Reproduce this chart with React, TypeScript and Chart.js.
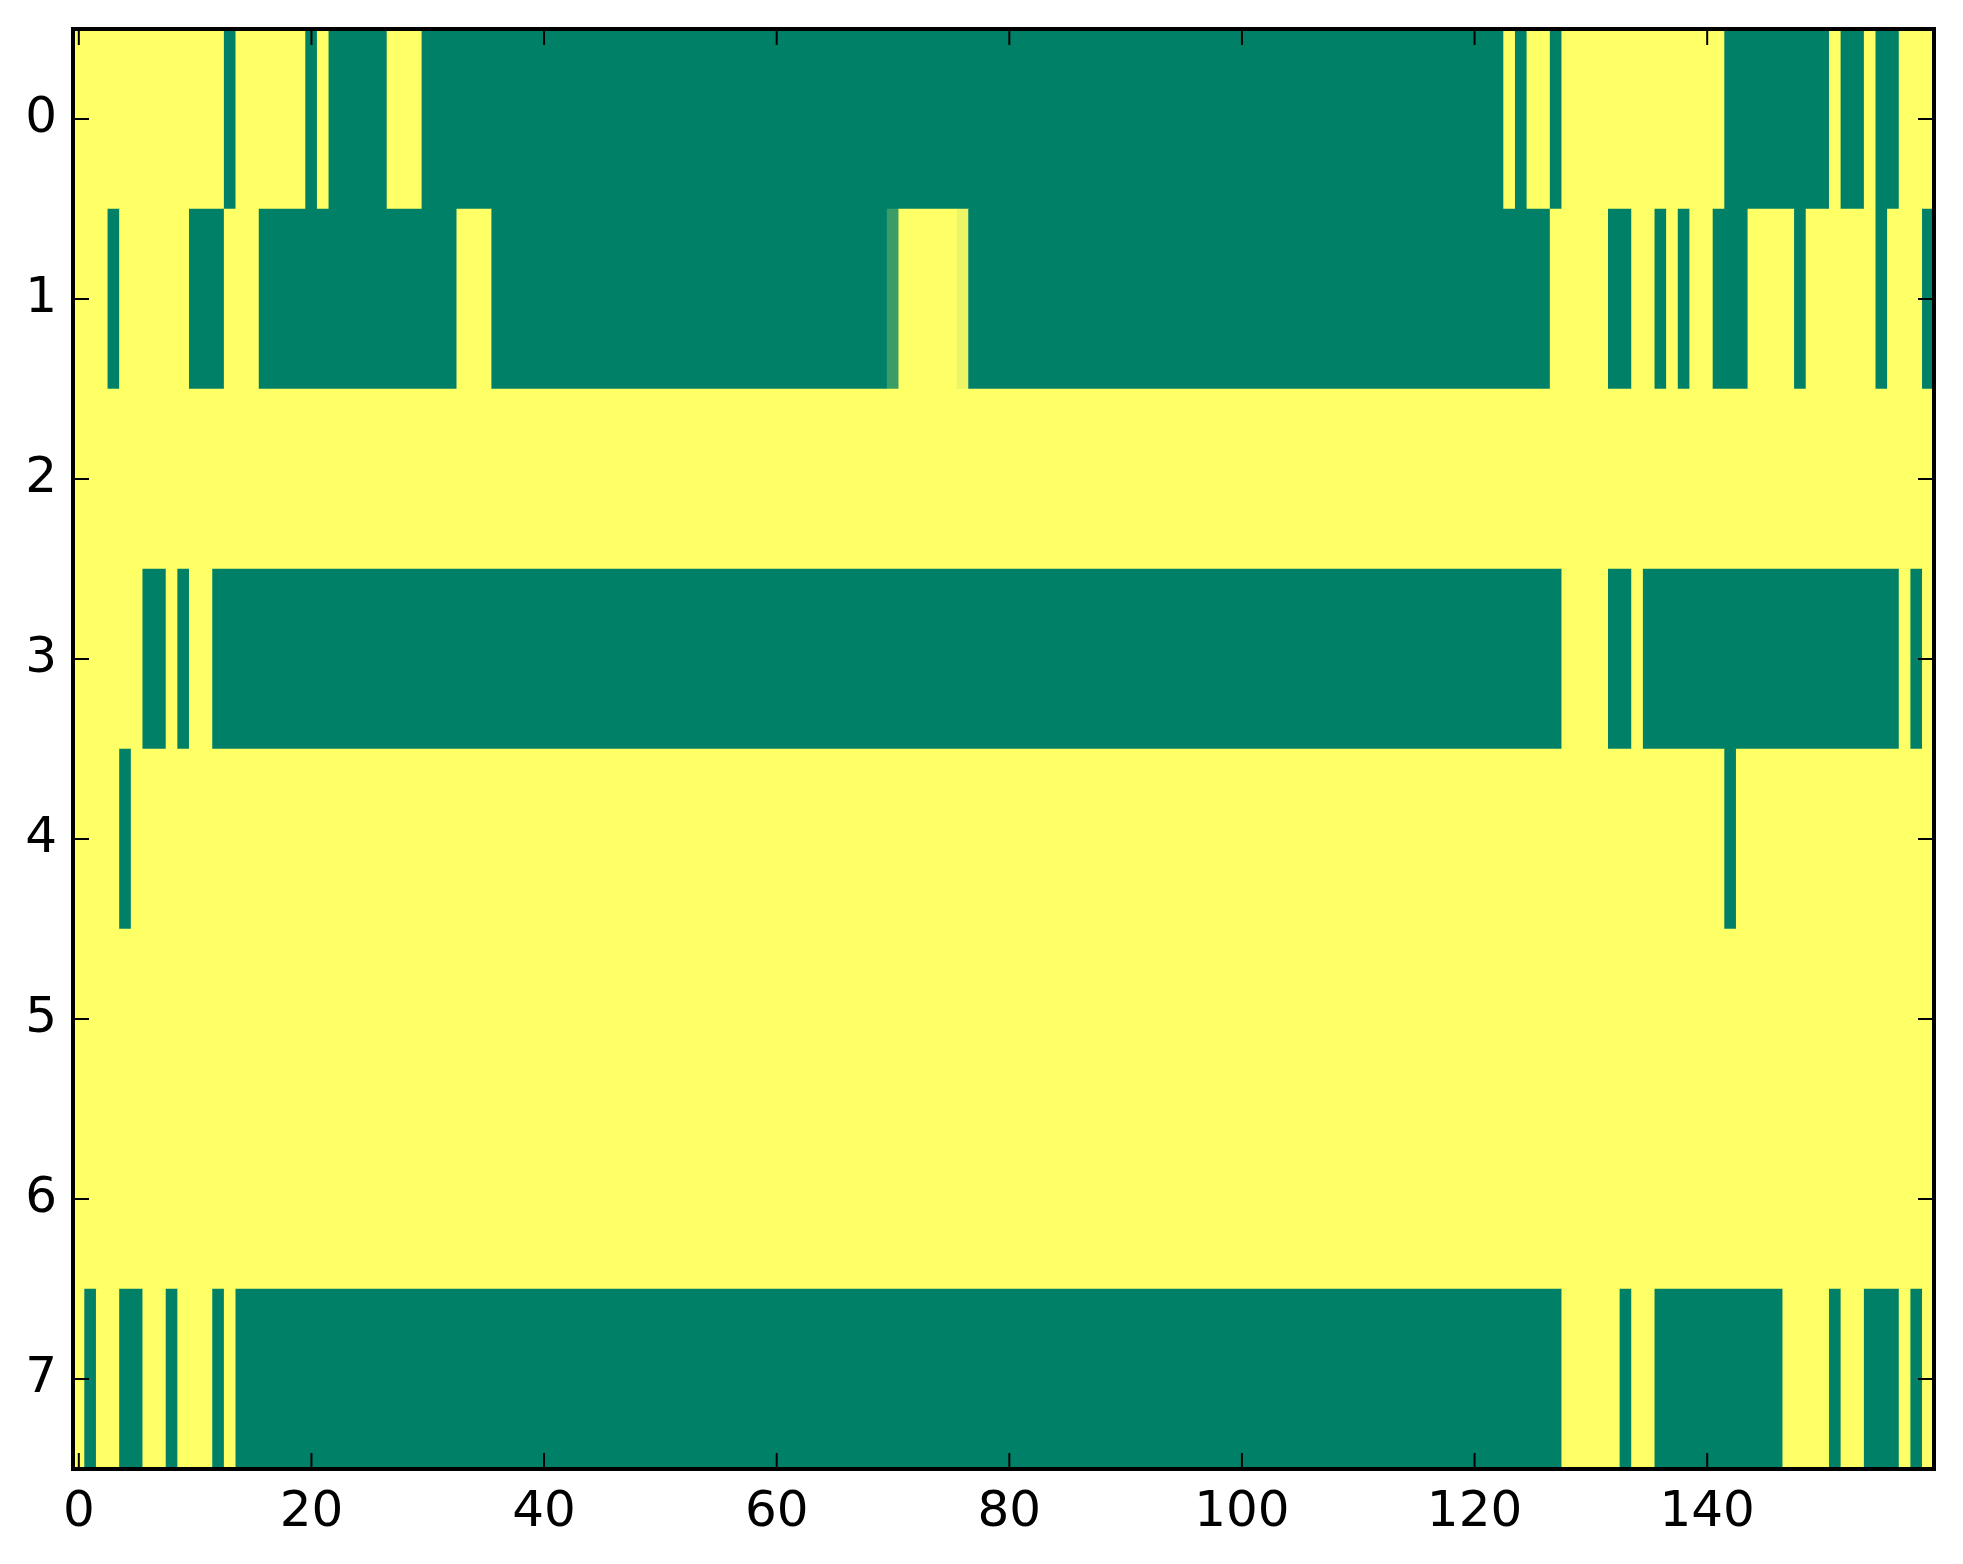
import React, { useEffect, useRef } from 'react';
import { Chart, registerables } from 'chart.js';

Chart.register(...registerables);

// Filas del mapa (0 = verde, 1 = amarillo), 160 columnas cada una
const rowLabels = ['0', '1', '2', '3', '4', '5', '6', '7'];
const xTickValues = [0, 20, 40, 60, 80, 100, 120, 140];

const row0 = [
  1, 1, 1, 1, 1, 1, 1, 1, 1, 1, 1, 1, 1, 0, 1, 1, 1, 1, 1, 1,
  0, 1, 0, 0, 0, 0, 0, 1, 1, 1, 0, 0, 0, 0, 0, 0, 0, 0, 0, 0,
  0, 0, 0, 0, 0, 0, 0, 0, 0, 0, 0, 0, 0, 0, 0, 0, 0, 0, 0, 0,
  0, 0, 0, 0, 0, 0, 0, 0, 0, 0, 0, 0, 0, 0, 0, 0, 0, 0, 0, 0,
  0, 0, 0, 0, 0, 0, 0, 0, 0, 0, 0, 0, 0, 0, 0, 0, 0, 0, 0, 0,
  0, 0, 0, 0, 0, 0, 0, 0, 0, 0, 0, 0, 0, 0, 0, 0, 0, 0, 0, 0,
  0, 0, 0, 1, 0, 1, 1, 0, 1, 1, 1, 1, 1, 1, 1, 1, 1, 1, 1, 1,
  1, 1, 0, 0, 0, 0, 0, 0, 0, 0, 0, 1, 0, 0, 1, 0, 0, 1, 1, 1,
];

const row1 = [
  1, 1, 1, 0, 1, 1, 1, 1, 1, 1, 0, 0, 0, 1, 1, 1, 0, 0, 0, 0,
  0, 0, 0, 0, 0, 0, 0, 0, 0, 0, 0, 0, 0, 1, 1, 1, 0, 0, 0, 0,
  0, 0, 0, 0, 0, 0, 0, 0, 0, 0, 0, 0, 0, 0, 0, 0, 0, 0, 0, 0,
  0, 0, 0, 0, 0, 0, 0, 0, 0, 0, 0.23, 1, 1, 1, 1, 1, 0.92, 0, 0, 0,
  0, 0, 0, 0, 0, 0, 0, 0, 0, 0, 0, 0, 0, 0, 0, 0, 0, 0, 0, 0,
  0, 0, 0, 0, 0, 0, 0, 0, 0, 0, 0, 0, 0, 0, 0, 0, 0, 0, 0, 0,
  0, 0, 0, 0, 0, 0, 0, 1, 1, 1, 1, 1, 0, 0, 1, 1, 0, 1, 0, 1,
  1, 0, 0, 0, 1, 1, 1, 1, 0, 1, 1, 1, 1, 1, 1, 0, 1, 1, 1, 0,
];

const row2 = [
  1, 1, 1, 1, 1, 1, 1, 1, 1, 1, 1, 1, 1, 1, 1, 1, 1, 1, 1, 1,
  1, 1, 1, 1, 1, 1, 1, 1, 1, 1, 1, 1, 1, 1, 1, 1, 1, 1, 1, 1,
  1, 1, 1, 1, 1, 1, 1, 1, 1, 1, 1, 1, 1, 1, 1, 1, 1, 1, 1, 1,
  1, 1, 1, 1, 1, 1, 1, 1, 1, 1, 1, 1, 1, 1, 1, 1, 1, 1, 1, 1,
  1, 1, 1, 1, 1, 1, 1, 1, 1, 1, 1, 1, 1, 1, 1, 1, 1, 1, 1, 1,
  1, 1, 1, 1, 1, 1, 1, 1, 1, 1, 1, 1, 1, 1, 1, 1, 1, 1, 1, 1,
  1, 1, 1, 1, 1, 1, 1, 1, 1, 1, 1, 1, 1, 1, 1, 1, 1, 1, 1, 1,
  1, 1, 1, 1, 1, 1, 1, 1, 1, 1, 1, 1, 1, 1, 1, 1, 1, 1, 1, 1,
];

const row3 = [
  1, 1, 1, 1, 1, 1, 0, 0, 1, 0, 1, 1, 0, 0, 0, 0, 0, 0, 0, 0,
  0, 0, 0, 0, 0, 0, 0, 0, 0, 0, 0, 0, 0, 0, 0, 0, 0, 0, 0, 0,
  0, 0, 0, 0, 0, 0, 0, 0, 0, 0, 0, 0, 0, 0, 0, 0, 0, 0, 0, 0,
  0, 0, 0, 0, 0, 0, 0, 0, 0, 0, 0, 0, 0, 0, 0, 0, 0, 0, 0, 0,
  0, 0, 0, 0, 0, 0, 0, 0, 0, 0, 0, 0, 0, 0, 0, 0, 0, 0, 0, 0,
  0, 0, 0, 0, 0, 0, 0, 0, 0, 0, 0, 0, 0, 0, 0, 0, 0, 0, 0, 0,
  0, 0, 0, 0, 0, 0, 0, 0, 1, 1, 1, 1, 0, 0, 1, 0, 0, 0, 0, 0,
  0, 0, 0, 0, 0, 0, 0, 0, 0, 0, 0, 0, 0, 0, 0, 0, 0, 1, 0, 1,
];

const row4 = [
  1, 1, 1, 1, 0, 1, 1, 1, 1, 1, 1, 1, 1, 1, 1, 1, 1, 1, 1, 1,
  1, 1, 1, 1, 1, 1, 1, 1, 1, 1, 1, 1, 1, 1, 1, 1, 1, 1, 1, 1,
  1, 1, 1, 1, 1, 1, 1, 1, 1, 1, 1, 1, 1, 1, 1, 1, 1, 1, 1, 1,
  1, 1, 1, 1, 1, 1, 1, 1, 1, 1, 1, 1, 1, 1, 1, 1, 1, 1, 1, 1,
  1, 1, 1, 1, 1, 1, 1, 1, 1, 1, 1, 1, 1, 1, 1, 1, 1, 1, 1, 1,
  1, 1, 1, 1, 1, 1, 1, 1, 1, 1, 1, 1, 1, 1, 1, 1, 1, 1, 1, 1,
  1, 1, 1, 1, 1, 1, 1, 1, 1, 1, 1, 1, 1, 1, 1, 1, 1, 1, 1, 1,
  1, 1, 0, 1, 1, 1, 1, 1, 1, 1, 1, 1, 1, 1, 1, 1, 1, 1, 1, 1,
];

const row5 = [
  1, 1, 1, 1, 1, 1, 1, 1, 1, 1, 1, 1, 1, 1, 1, 1, 1, 1, 1, 1,
  1, 1, 1, 1, 1, 1, 1, 1, 1, 1, 1, 1, 1, 1, 1, 1, 1, 1, 1, 1,
  1, 1, 1, 1, 1, 1, 1, 1, 1, 1, 1, 1, 1, 1, 1, 1, 1, 1, 1, 1,
  1, 1, 1, 1, 1, 1, 1, 1, 1, 1, 1, 1, 1, 1, 1, 1, 1, 1, 1, 1,
  1, 1, 1, 1, 1, 1, 1, 1, 1, 1, 1, 1, 1, 1, 1, 1, 1, 1, 1, 1,
  1, 1, 1, 1, 1, 1, 1, 1, 1, 1, 1, 1, 1, 1, 1, 1, 1, 1, 1, 1,
  1, 1, 1, 1, 1, 1, 1, 1, 1, 1, 1, 1, 1, 1, 1, 1, 1, 1, 1, 1,
  1, 1, 1, 1, 1, 1, 1, 1, 1, 1, 1, 1, 1, 1, 1, 1, 1, 1, 1, 1,
];

const row6 = [
  1, 1, 1, 1, 1, 1, 1, 1, 1, 1, 1, 1, 1, 1, 1, 1, 1, 1, 1, 1,
  1, 1, 1, 1, 1, 1, 1, 1, 1, 1, 1, 1, 1, 1, 1, 1, 1, 1, 1, 1,
  1, 1, 1, 1, 1, 1, 1, 1, 1, 1, 1, 1, 1, 1, 1, 1, 1, 1, 1, 1,
  1, 1, 1, 1, 1, 1, 1, 1, 1, 1, 1, 1, 1, 1, 1, 1, 1, 1, 1, 1,
  1, 1, 1, 1, 1, 1, 1, 1, 1, 1, 1, 1, 1, 1, 1, 1, 1, 1, 1, 1,
  1, 1, 1, 1, 1, 1, 1, 1, 1, 1, 1, 1, 1, 1, 1, 1, 1, 1, 1, 1,
  1, 1, 1, 1, 1, 1, 1, 1, 1, 1, 1, 1, 1, 1, 1, 1, 1, 1, 1, 1,
  1, 1, 1, 1, 1, 1, 1, 1, 1, 1, 1, 1, 1, 1, 1, 1, 1, 1, 1, 1,
];

const row7 = [
  1, 0, 1, 1, 0, 0, 1, 1, 0, 1, 1, 1, 0, 1, 0, 0, 0, 0, 0, 0,
  0, 0, 0, 0, 0, 0, 0, 0, 0, 0, 0, 0, 0, 0, 0, 0, 0, 0, 0, 0,
  0, 0, 0, 0, 0, 0, 0, 0, 0, 0, 0, 0, 0, 0, 0, 0, 0, 0, 0, 0,
  0, 0, 0, 0, 0, 0, 0, 0, 0, 0, 0, 0, 0, 0, 0, 0, 0, 0, 0, 0,
  0, 0, 0, 0, 0, 0, 0, 0, 0, 0, 0, 0, 0, 0, 0, 0, 0, 0, 0, 0,
  0, 0, 0, 0, 0, 0, 0, 0, 0, 0, 0, 0, 0, 0, 0, 0, 0, 0, 0, 0,
  0, 0, 0, 0, 0, 0, 0, 0, 1, 1, 1, 1, 1, 0, 1, 1, 0, 0, 0, 0,
  0, 0, 0, 0, 0, 0, 0, 1, 1, 1, 1, 0, 1, 1, 0, 0, 0, 1, 0, 1,
];

const rows = [row0, row1, row2, row3, row4, row5, row6, row7];

// mapa de color "summer" de matplotlib
const summer = (v: number) =>
  `rgb(${Math.round(255 * v)}, ${Math.round(255 * (0.5 + 0.5 * v))}, 102)`;

// cada tramo de celdas iguales se dibuja como una barra flotante
const cells: { x: [number, number]; y: string }[] = [];
const cellColors: string[] = [];
rows.forEach((row, r) => {
  let start = 0;
  for (let c = 1; c <= row.length; c++) {
    if (c === row.length || row[c] !== row[start]) {
      cells.push({ x: [start - 0.5, c - 0.5], y: rowLabels[r] });
      cellColors.push(summer(row[start]));
      start = c;
    }
  }
});

const tickFont = { family: 'DejaVu Sans', size: 50 };

// marco negro y marcas hacia dentro en los cuatro lados
const frameAndTicks = {
  id: 'frameAndTicks',
  afterDatasetsDraw(chart: any) {
    const { ctx, chartArea: a, scales } = chart;
    const len = 16;
    ctx.save();
    ctx.strokeStyle = '#000';
    ctx.lineWidth = 2;
    ctx.beginPath();
    xTickValues.forEach((v) => {
      const px = scales.x.getPixelForValue(v);
      ctx.moveTo(px, a.bottom);
      ctx.lineTo(px, a.bottom - len);
      ctx.moveTo(px, a.top);
      ctx.lineTo(px, a.top + len);
    });
    rowLabels.forEach((_, i) => {
      const py = scales.y.getPixelForValue(i);
      ctx.moveTo(a.left, py);
      ctx.lineTo(a.left + len, py);
      ctx.moveTo(a.right, py);
      ctx.lineTo(a.right - len, py);
    });
    ctx.stroke();
    ctx.lineWidth = 4;
    ctx.strokeRect(a.left, a.top, a.right - a.left, a.bottom - a.top);
    ctx.restore();
  },
};

const HeatMap: React.FC = () => {
  const chartRef = useRef<HTMLCanvasElement>(null);

  useEffect(() => {
    document.body.style.margin = '0';
    if (!chartRef.current) return;
    const chart = new Chart(chartRef.current, {
      type: 'bar',
      data: {
        labels: rowLabels,
        datasets: [
          {
            data: cells as any,
            backgroundColor: cellColors,
            borderWidth: 0,
            barPercentage: 1,
            categoryPercentage: 1,
          },
        ],
      },
      options: {
        indexAxis: 'y',
        animation: false,
        responsive: false,
        devicePixelRatio: 1,
        layout: { padding: { top: 29, right: 29, left: 0, bottom: 0 } },
        plugins: {
          legend: { display: false },
          tooltip: { enabled: false },
        },
        scales: {
          x: {
            type: 'linear',
            min: -0.5,
            max: 159.5,
            grid: { display: false, drawTicks: false },
            border: { display: false },
            afterBuildTicks: (s: any) => {
              s.ticks = xTickValues.map((v) => ({ value: v }));
            },
            afterFit: (s: any) => {
              s.height = 95;
              s.paddingLeft = 0;
              s.paddingRight = 0;
            },
            ticks: {
              font: tickFont,
              color: '#000',
              padding: 14,
              maxRotation: 0,
              autoSkip: false,
            },
          },
          y: {
            type: 'category',
            grid: { display: false, drawTicks: false },
            border: { display: false },
            afterFit: (s: any) => {
              s.width = 73;
              s.paddingTop = 0;
              s.paddingBottom = 0;
            },
            ticks: {
              font: tickFont,
              color: '#000',
              padding: 16,
            },
          },
        },
      },
      plugins: [frameAndTicks],
    });

    return () => {
      chart.destroy();
    };
  }, []);

  return <canvas ref={chartRef} width={1963} height={1564} />;
};

export default function App() {
  return <HeatMap />;
}
